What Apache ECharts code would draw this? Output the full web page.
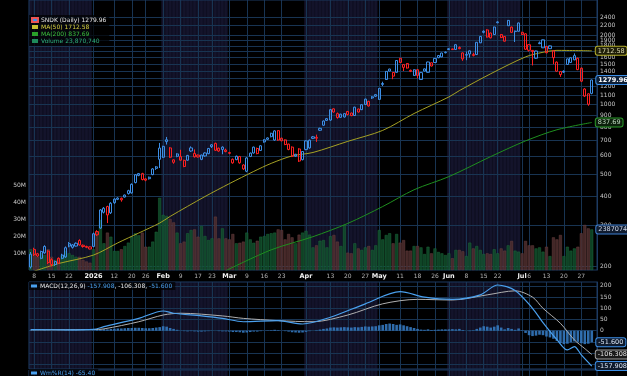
<!DOCTYPE html>
<html>
<head>
<meta charset="utf-8">
<script src="https://cdn.jsdelivr.net/npm/echarts@6/dist/echarts.min.js"></script>
<style>
  html, body { margin: 0; padding: 0; background: #000; }
  #chart { width: 627px; height: 376px; }
</style>
</head>
<body>
<div id="chart"></div>
<script>
// trading days shown on the chart
const dates = [
  '2025-12-05','2025-12-08','2025-12-09','2025-12-10','2025-12-11','2025-12-12','2025-12-15','2025-12-16','2025-12-17','2025-12-18',
  '2025-12-19','2025-12-22','2025-12-23','2025-12-24','2025-12-26','2025-12-29','2025-12-30','2025-12-31',
  '2026-01-02','2026-01-05','2026-01-06','2026-01-07','2026-01-08','2026-01-09','2026-01-12','2026-01-13','2026-01-14','2026-01-15',
  '2026-01-16','2026-01-20','2026-01-21','2026-01-22','2026-01-23','2026-01-26','2026-01-27','2026-01-28','2026-01-29','2026-01-30',
  '2026-02-02','2026-02-03','2026-02-04','2026-02-05','2026-02-06','2026-02-09','2026-02-10','2026-02-11','2026-02-12','2026-02-13',
  '2026-02-17','2026-02-18','2026-02-19','2026-02-20','2026-02-23','2026-02-24','2026-02-25','2026-02-26','2026-02-27',
  '2026-03-02','2026-03-03','2026-03-04','2026-03-05','2026-03-06','2026-03-09','2026-03-10','2026-03-11','2026-03-12','2026-03-13',
  '2026-03-16','2026-03-17','2026-03-18','2026-03-19','2026-03-20','2026-03-23','2026-03-24','2026-03-25','2026-03-26','2026-03-27',
  '2026-03-30','2026-03-31',
  '2026-04-01','2026-04-02','2026-04-06','2026-04-07','2026-04-08','2026-04-09','2026-04-10','2026-04-13','2026-04-14','2026-04-15',
  '2026-04-16','2026-04-17','2026-04-20','2026-04-21','2026-04-22','2026-04-23','2026-04-24','2026-04-27','2026-04-28','2026-04-29','2026-04-30',
  '2026-05-01','2026-05-04','2026-05-05','2026-05-06','2026-05-07','2026-05-08','2026-05-11','2026-05-12','2026-05-13','2026-05-14',
  '2026-05-15','2026-05-18','2026-05-19','2026-05-20','2026-05-21','2026-05-22','2026-05-26','2026-05-27','2026-05-28','2026-05-29',
  '2026-06-01','2026-06-02','2026-06-03','2026-06-04','2026-06-05','2026-06-08','2026-06-09','2026-06-10','2026-06-11','2026-06-12',
  '2026-06-15','2026-06-16','2026-06-17','2026-06-18','2026-06-22','2026-06-23','2026-06-24','2026-06-25','2026-06-26','2026-06-29','2026-06-30',
  '2026-07-01','2026-07-02','2026-07-06','2026-07-07','2026-07-08','2026-07-09','2026-07-10','2026-07-13','2026-07-14','2026-07-15',
  '2026-07-16','2026-07-17','2026-07-20','2026-07-21','2026-07-22','2026-07-23','2026-07-24','2026-07-27','2026-07-28','2026-07-29','2026-07-30'
];

const open = [
  198,236,226,216,228,232,213,203,216,216,219,250,241,244,258,246,243,242,
  243,282,292,342,362,340,376,389,393,398,424,415,460,494,503,477,478,498,530,649,
  592,692,650,563,612,575,574,575,650,595,605,580,600,614,658,680,648,655,627,
  620,580,578,596,548,515,597,618,646,634,690,708,727,703,772,716,704,675,655,598,643,578,
  640,650,715,722,775,815,870,858,960,915,882,885,935,920,898,958,952,1002,1034,1070,1106,
  1055,1225,1286,1400,1380,1382,1590,1492,1508,1410,1340,1418,1286,1430,1382,1520,1524,1634,1612,1680,
  1735,1745,1736,1770,1677,1640,1712,1650,1650,1855,2060,2110,2045,2015,2268,2015,1975,2200,2170,2085,2082,
  2060,2030,1820,1720,1590,1840,1765,1790,1800,1712,1530,1392,1385,1495,1525,1565,1590,1440,1170,1115,1120
];
const high = [
  230,240,228,233,246,234,216,211,218,226,243,254,249,253,261,248,245,243,
  279,286,353,360,365,378,393,397,396,408,428,456,500,506,507,480,488,531,542,683,
  664,725,655,580,616,638,578,606,660,640,608,608,622,650,675,685,652,660,645,
  625,585,602,600,552,592,620,658,652,667,708,722,756,775,776,720,708,678,660,612,648,630,
  700,706,732,742,795,855,875,956,965,925,914,918,940,925,980,962,1005,1062,1040,1090,1110,
  1182,1258,1400,1432,1385,1560,1595,1500,1515,1420,1422,1425,1382,1435,1536,1525,1592,1640,1680,1700,
  1760,1750,1830,1790,1685,1700,1720,1680,1870,1985,2100,2125,2055,2178,2300,2025,1985,2330,2180,2095,2270,
  2070,2040,1830,1725,1715,1880,1918,1795,1805,1720,1540,1400,1410,1585,1602,1670,1600,1450,1180,1120,1285
];
const low = [
  195,221,219,214,226,204,199,200,204,214,217,241,238,243,245,240,239,236,
  241,270,290,338,307,336,372,386,380,396,408,412,456,490,470,466,474,495,522,532,
  588,672,588,555,592,572,536,572,625,590,590,575,595,610,650,630,625,610,622,
  610,555,575,555,522,510,593,614,610,630,685,704,722,698,698,694,668,635,593,595,565,574,
  635,645,710,690,770,810,850,852,925,870,878,880,900,892,894,925,948,998,982,1060,1080,
  1050,1205,1280,1395,1290,1378,1518,1400,1435,1385,1335,1300,1280,1395,1378,1465,1520,1592,1608,1670,
  1725,1728,1730,1740,1550,1560,1600,1620,1645,1850,2040,1955,1940,2010,2255,1945,1880,2195,2050,1870,2078,
  2005,1730,1700,1480,1580,1830,1760,1670,1745,1500,1390,1320,1375,1490,1520,1560,1412,1255,1080,990,1110
];
const close = [
  225,224,221,231,243,207,203,209,206,223,240,244,247,251,247,243,241,237,
  276,273,350,356,333,374,390,394,387,406,412,452,497,503,474,471,485,527,538,580,
  660,705,592,577,598,596,540,603,630,615,594,605,618,646,670,635,630,640,636,
  616,560,598,560,527,588,617,655,614,664,705,718,752,770,703,698,672,640,598,610,570,627,
  697,702,726,716,790,850,855,952,930,880,910,915,906,897,976,930,1000,1058,988,1082,1088,
  1178,1236,1395,1428,1330,1555,1525,1452,1442,1395,1418,1340,1378,1400,1532,1472,1588,1598,1676,1690,
  1748,1734,1820,1750,1580,1650,1660,1636,1865,1978,2082,1965,1950,2172,2285,1955,1885,2320,2060,2075,2262,
  2015,1740,1722,1700,1710,1855,1912,1680,1750,1600,1398,1352,1395,1580,1598,1632,1420,1265,1090,1005,1279.96
];
// daily volume, millions of shares
const volume = [
  12.2,9.8,7.8,9.8,8.8,12.2,7.8,5.9,6.9,8.8,11.2,9.8,8.8,7.8,7.8,5.9,5.0,4.3,
  12.2,22.5,29.4,15.7,22.0,19.6,11.2,11.2,12.2,14.1,16.1,19.6,21.6,20.4,22.0,13.7,13.7,16.7,22.5,42.5,
  32.4,31.8,30.0,28.0,22.0,15.7,16.7,21.6,23.5,23.9,19.6,25.9,20.0,17.6,18.6,31.4,18.6,24.5,18.6,
  18.0,21.2,15.7,16.0,16.7,22.0,18.0,16.0,17.2,19.6,20.0,21.2,21.6,22.0,23.9,23.5,18.0,21.2,19.2,15.7,20.8,22.0,
  23.0,20.8,13.3,14.5,17.2,17.6,13.3,19.9,20.6,16.7,14.1,26.5,10.2,9.8,15.7,12.7,11.8,13.3,14.1,11.8,14.5,
  23.5,18.0,20.6,21.6,15.7,21.2,16.1,17.6,11.4,11.4,14.1,14.1,13.3,9.4,13.7,9.8,12.7,10.6,9.8,8.8,
  9.8,6.9,11.8,11.8,11.0,8.2,16.1,12.7,14.1,11.8,9.4,9.8,9.4,12.2,9.8,12.7,11.4,14.5,17.1,11.4,10.8,
  9.8,17.1,14.5,14.5,12.7,13.3,10.8,13.7,8.2,19.2,18.0,20.6,8.2,13.7,11.4,12.7,13.7,21.6,26.5,24.5,23.87
];
const ma50 = [
  ['2025-12-08',190],['2025-12-17',205],['2026-01-02',223],['2026-01-13',252],['2026-01-22',278],['2026-01-30',307],
  ['2026-02-04',328],['2026-02-19',400],['2026-03-02',455],['2026-03-11',514],['2026-03-18',557],['2026-03-26',600],
  ['2026-04-06',621],['2026-04-20',694],['2026-05-04',774],['2026-05-15',916],['2026-06-01',1081],['2026-06-04',1151],
  ['2026-06-17',1362],['2026-07-02',1612],['2026-07-10',1688],['2026-07-16',1720],['2026-07-30',1712.58]
];
const ma200 = [
  ['2026-02-27',191],['2026-03-18',235],['2026-04-06',268],['2026-04-20',306],['2026-05-04',362],['2026-05-15',428],
  ['2026-06-01',488],['2026-06-17',596],['2026-07-02',697],['2026-07-16',779],['2026-07-30',837.69]
];
const macdLine = [
  ['2025-12-05',5],['2025-12-22',4],['2026-01-02',6],['2026-01-07',18],['2026-01-22',55],['2026-02-02',88],['2026-02-05',78],
  ['2026-02-18',66],['2026-02-26',55],['2026-03-06',40],['2026-03-20',45],['2026-03-31',30],['2026-04-13',60],['2026-04-27',120],
  ['2026-05-11',174],['2026-05-20',150],['2026-06-02',140],['2026-06-12',160],['2026-06-22',204],['2026-06-29',180],
  ['2026-07-07',100],['2026-07-10',36],['2026-07-16',-40],['2026-07-21',-86],['2026-07-23',-71],['2026-07-27',-108],['2026-07-30',-157.908]
];
const signalLine = [
  ['2025-12-05',4],['2026-01-02',5],['2026-01-07',8],['2026-01-22',40],['2026-02-02',70],['2026-02-09',78],['2026-02-26',66],
  ['2026-03-06',55],['2026-03-20',45],['2026-04-06',40],['2026-04-20',70],['2026-05-04',120],['2026-05-18',140],['2026-06-02',137],
  ['2026-06-16',160],['2026-06-29',178],['2026-07-07',150],['2026-07-10',100],['2026-07-17',33],['2026-07-23',-41],
  ['2026-07-28',-80],['2026-07-30',-106.308]
];
const macdHist = [
  2,2,1,1,2,1,0,0,1,1,2,2,2,2,1,1,0,0,
  2,3,6,7,6,8,9,10,10,11,12,12,13,13,12,11,11,12,14,16,
  20,18,12,8,
  4,1,-2,-3,-2,-3,-4,-4,-3,-2,-1,0,-2,-3,-3,-4,-6,-6,-7,-9,
  -8,-6,-4,-4,-2,0,1,2,4,2,0,-2,-4,-7,-8,
  -9,-8,-5,-2,0,2,5,8,10,
  14,15,14,15,16,15,14,16,15,17,19,18,19,20,24,26,
  30,32,30,26,28,24,20,16,12,8,
  5,4,6,3,4,5,6,6,6,7,6,8,3,0,-2,
  2,8,14,20,18,14,18,24,14,6,
  12,8,4,10,2,-10,-20,
  -24,-22,-18,-20,-26,-30,-36,-46,-55,-60,-58,-52,-48,-50,-56,-60,-58,-51.6
];
const tickDates = ['2025-12-08','2025-12-15','2025-12-22','2026-01-02','2026-01-12','2026-01-20','2026-01-26','2026-02-02',
  '2026-02-09','2026-02-17','2026-02-23','2026-03-02','2026-03-09','2026-03-16','2026-03-23','2026-04-01','2026-04-13',
  '2026-04-20','2026-04-27','2026-05-01','2026-05-11','2026-05-18','2026-05-26','2026-06-01','2026-06-08','2026-06-15',
  '2026-06-22','2026-07-01','2026-07-06','2026-07-13','2026-07-20','2026-07-27'];
const tickText = ['8','15','22','2026','12','20','26','Feb','9','17','23','Mar','9','16','23','Apr','13','20','27',
  'May','11','18','26','Jun','8','15','22','Jul','6','13','20','27'];
const priceTicks = [200,300,400,500,600,700,800,900,1000,1100,1200,1300,1400,1500,1600,1700,1800,1900,2000,2200,2400];
const volumeTicks = [10,20,30,40,50];
const macdTicks = [-150,-100,-50,0,50,100,150,200];
const lastVolume = 23870740;
const willR = -65.40;

const FONT = 'DejaVu Sans';
const BLUE = '#3d8fe6', RED = '#ff2020';
const NAVY = '#14142b', GRID = '#183452';
const navyMonths = ['12', '02', '04', '06'];
const n = dates.length;
const axisDates = dates.concat(['']);

const candles = dates.map((d, i) => {
  const col = (i === 0 || close[i] >= close[i - 1]) ? BLUE : RED;
  return {
    value: [open[i], close[i], low[i], high[i]],
    itemStyle: { color: 'rgba(0,0,0,0)', color0: col, borderColor: col, borderColor0: col, borderWidth: 1 }
  };
});
const volBars = dates.map((d, i) => {
  const up = i === 0 || close[i] >= close[i - 1];
  return {
    value: volume[i],
    itemStyle: up ? { color: 'rgba(16,78,44,0.85)', borderColor: 'rgba(30,110,62,0.9)', borderWidth: 0.5 }
                  : { color: 'rgba(78,46,46,0.85)', borderColor: 'rgba(110,66,66,0.9)', borderWidth: 0.5 }
  };
});

function bandSeries(xi, yi) {
  return {
    type: 'bar', xAxisIndex: xi, yAxisIndex: yi, silent: true, z: 0,
    barWidth: '100%', barCategoryGap: '0%',
    data: axisDates.map(d => {
      const c = navyMonths.includes(d.slice(5, 7)) ? NAVY : 'rgba(0,0,0,0)';
      return { value: 1, itemStyle: { color: c, borderColor: c, borderWidth: 0.6 } };
    }),
    markLine: {
      silent: true, symbol: 'none', z: 0.5, label: { show: false },
      lineStyle: { color: GRID, width: 1, type: 'solid' },
      data: tickDates.map(d => ({ xAxis: d }))
    }
  };
}

const tag = (text, border, fill, color, bold) => ({
  show: true, formatter: text, color: color, fontFamily: FONT, fontSize: 6.5, fontWeight: bold ? 'bold' : 'normal',
  backgroundColor: fill, borderColor: border, borderWidth: 1, borderRadius: 2, padding: [1, 2, 0, 2]
});

const chart = echarts.init(document.getElementById('chart'));
const xBase = { type: 'category', data: axisDates, boundaryGap: true };
const hiddenY = (g) => ({ type: 'value', gridIndex: g, min: 0, max: 1, show: false });

const option = {
  animation: false,
  backgroundColor: '#000',
  textStyle: { fontFamily: FONT },
  grid: [
    { left: 29, right: 30, top: 0, height: 270, show: true, borderColor: '#1d3b62', borderWidth: 1, backgroundColor: 'transparent', z: 1 },
    { left: 29, right: 30, top: 282, height: 87, show: true, borderColor: '#1d3b62', borderWidth: 1, backgroundColor: 'transparent', z: 1 },
    { left: 29, right: 30, top: 370, height: 60, show: true, borderColor: '#1d3b62', borderWidth: 1, backgroundColor: 'transparent', z: 1 }
  ],
  legend: [
    {
      left: 29, top: 15, orient: 'vertical', itemWidth: 6, itemHeight: 4, itemGap: 1,
      padding: [2, 3, 2, 2], backgroundColor: 'rgba(0,0,0,0.7)',
      textStyle: { fontSize: 6, fontFamily: FONT, lineHeight: 6, padding: [0, 0, 0, -2] },
      data: [
        { name: 'SNDK (Daily)', icon: 'rect', itemStyle: { color: BLUE }, textStyle: { color: '#e6e6e6' } },
        { name: 'MA(50)', icon: 'rect', itemStyle: { color: '#c8c030' }, textStyle: { color: '#d8d040' } },
        { name: 'MA(200)', icon: 'rect', itemStyle: { color: '#2aa02a' }, textStyle: { color: '#3cc03c' } },
        { name: 'Volume', icon: 'rect', itemStyle: { color: '#1e8a5a' }, textStyle: { color: '#2fb07a' } }
      ],
      formatter: name => {
        if (name === 'SNDK (Daily)') return name + ' ' + close[n - 1].toFixed(2);
        if (name === 'MA(50)') return name + ' ' + ma50[ma50.length - 1][1].toFixed(2);
        if (name === 'MA(200)') return name + ' ' + ma200[ma200.length - 1][1].toFixed(2);
        return name + ' ' + lastVolume.toLocaleString('en-US');
      }
    },
    {
      left: 29, top: 282, orient: 'horizontal', itemWidth: 6, itemHeight: 3,
      padding: [1, 3, 1, 2], backgroundColor: 'rgba(0,0,0,0.7)',
      textStyle: { fontSize: 6, fontFamily: FONT, color: '#e6e6e6', padding: [0, 0, 0, -2],
        rich: { b: { color: '#4aa0ee', fontSize: 6, fontFamily: FONT }, w: { color: '#e6e6e6', fontSize: 6, fontFamily: FONT } } },
      data: [{ name: 'MACD', icon: 'rect', itemStyle: { color: '#4aa0ee' } }],
      formatter: () => 'MACD(12,26,9) {b|' + macdLine[macdLine.length - 1][1].toFixed(3) + '}{w|, ' +
        signalLine[signalLine.length - 1][1].toFixed(3) + ',} {b|' + macdHist[n - 1].toFixed(3) + '}'
    },
    {
      left: 29, top: 369, itemWidth: 6, itemHeight: 3, padding: [1, 3, 1, 2], backgroundColor: 'rgba(0,0,0,0.7)',
      textStyle: { fontSize: 6, fontFamily: FONT, color: '#4aa0ee', padding: [0, 0, 0, -2] },
      data: [{ name: 'Wm%R(14)', icon: 'rect', itemStyle: { color: '#4aa0ee' } }],
      formatter: name => name + ' ' + willR.toFixed(2)
    }
  ],
  xAxis: [
    Object.assign({}, xBase, {
      gridIndex: 0, z: 1,
      axisLine: { show: false }, axisTick: { show: false }, splitLine: { show: false },
      axisLabel: {
        interval: (i, v) => tickDates.includes(v), margin: 3, fontSize: 6, fontFamily: FONT, color: '#b4b4b4',
        formatter: v => {
          const t = tickText[tickDates.indexOf(v)];
          return (isNaN(+t) || +t > 31) ? '{b|' + t + '}' : t;
        },
        rich: { b: { fontWeight: 'bold', color: '#f0f0f0', fontSize: 6.5, fontFamily: FONT } }
      }
    }),
    Object.assign({}, xBase, { gridIndex: 0, show: false }),
    Object.assign({}, xBase, { gridIndex: 1, show: false }),
    Object.assign({}, xBase, { gridIndex: 1, show: false }),
    Object.assign({}, xBase, { gridIndex: 2, show: false })
  ],
  yAxis: [
    {
      type: 'log', logBase: 10, gridIndex: 0, position: 'right', min: 192.17, max: 2844, z: 1,
      axisLine: { show: true, lineStyle: { color: '#1d3b62' } },
      axisTick: { show: false, customValues: priceTicks },
      axisLabel: { customValues: priceTicks, formatter: v => String(Math.round(v)), fontSize: 6, fontFamily: FONT, color: '#c8c8c8', margin: 3 },
      splitLine: { show: true, lineStyle: { color: GRID, width: 1 } }
    },
    {
      // 1.7 px per million over the 270 px tall price pane
      type: 'value', gridIndex: 0, position: 'left', min: 0, max: 158.8, z: 1,
      axisLine: { show: false }, axisTick: { show: false, customValues: volumeTicks },
      axisLabel: { customValues: volumeTicks, formatter: v => v + 'M', fontSize: 6, fontFamily: FONT, color: '#c8c8c8', margin: 3 },
      splitLine: { show: false }
    },
    hiddenY(0),
    {
      type: 'value', gridIndex: 1, position: 'right', min: -171, max: 217.4, z: 1,
      axisLine: { show: true, lineStyle: { color: '#1d3b62' } },
      axisTick: { show: false, customValues: macdTicks },
      axisLabel: { customValues: macdTicks, fontSize: 6, fontFamily: FONT, color: '#c8c8c8', margin: 3 },
      splitLine: { show: true, lineStyle: { color: GRID, width: 1 } }
    },
    hiddenY(1),
    hiddenY(2)
  ],
  series: [
    bandSeries(1, 2),
    bandSeries(3, 4),
    bandSeries(4, 5),
    {
      name: 'Volume', type: 'bar', xAxisIndex: 0, yAxisIndex: 1, z: 2,
      barWidth: 3, data: volBars,
      markPoint: {
        symbol: 'rect', symbolSize: 1, itemStyle: { color: 'rgba(0,0,0,0)' },
        data: [{ coord: [dates[n - 1], volume[n - 1]], label: Object.assign(tag(String(lastVolume), '#3d7fd0', '#101c30', '#d0d8e8', false), { position: 'right', distance: 4 }) }]
      }
    },
    {
      name: 'MA(200)', type: 'line', xAxisIndex: 0, yAxisIndex: 0, z: 3, data: ma200, smooth: 0.3,
      symbol: 'none', lineStyle: { color: '#1f8f1f', width: 1 },
      endLabel: Object.assign(tag('837.69', '#2a9a2a', '#0c200c', '#c0d8c0', false), { distance: 4 })
    },
    {
      name: 'MA(50)', type: 'line', xAxisIndex: 0, yAxisIndex: 0, z: 3, data: ma50, smooth: 0.3,
      symbol: 'none', lineStyle: { color: '#a6a224', width: 1 },
      endLabel: Object.assign(tag('1712.58', '#b4ae2a', '#1e1e08', '#e0dcb0', false), { distance: 4 })
    },
    {
      name: 'SNDK (Daily)', type: 'candlestick', xAxisIndex: 0, yAxisIndex: 0, z: 4,
      barWidth: 2.6, data: candles,
      markPoint: {
        symbol: 'rect', symbolSize: 1, itemStyle: { color: 'rgba(0,0,0,0)' },
        data: [{ coord: [dates[n - 1], close[n - 1]], label: Object.assign(tag(close[n - 1].toFixed(2), '#3d8fe6', '#0e2038', '#ffffff', true), { position: 'right', distance: 4 }) }]
      }
    },
    {
      name: 'Hist', type: 'bar', xAxisIndex: 2, yAxisIndex: 3, z: 2, barWidth: 2.6,
      data: macdHist, itemStyle: { color: 'rgba(52,120,190,0.9)' },
      markPoint: {
        symbol: 'rect', symbolSize: 1, itemStyle: { color: 'rgba(0,0,0,0)' },
        data: [{ coord: [dates[n - 1], macdHist[n - 1]], label: Object.assign(tag(macdHist[n - 1].toFixed(3), '#3d8fe6', '#0e1a2c', '#d8e4f4', false), { position: 'right', distance: 4 }) }]
      }
    },
    {
      name: 'Signal', type: 'line', xAxisIndex: 2, yAxisIndex: 3, z: 3, data: signalLine, smooth: 0.3,
      symbol: 'none', lineStyle: { color: '#b0b0b0', width: 1 },
      endLabel: Object.assign(tag(signalLine[signalLine.length - 1][1].toFixed(3), '#a0a0a0', '#1a1a1a', '#e0e0e0', false), { distance: 4 })
    },
    {
      name: 'MACD', type: 'line', xAxisIndex: 2, yAxisIndex: 3, z: 4, data: macdLine, smooth: 0.3,
      symbol: 'none', lineStyle: { color: '#4aa0ee', width: 1.2 },
      endLabel: Object.assign(tag(macdLine[macdLine.length - 1][1].toFixed(3), '#3d8fe6', '#0e1a2c', '#d8e4f4', false), { distance: 4 })
    },
    { name: 'Wm%R(14)', type: 'line', xAxisIndex: 4, yAxisIndex: 5, data: [], symbol: 'none' }
  ]
};
chart.setOption(option);
</script>
</body>
</html>
